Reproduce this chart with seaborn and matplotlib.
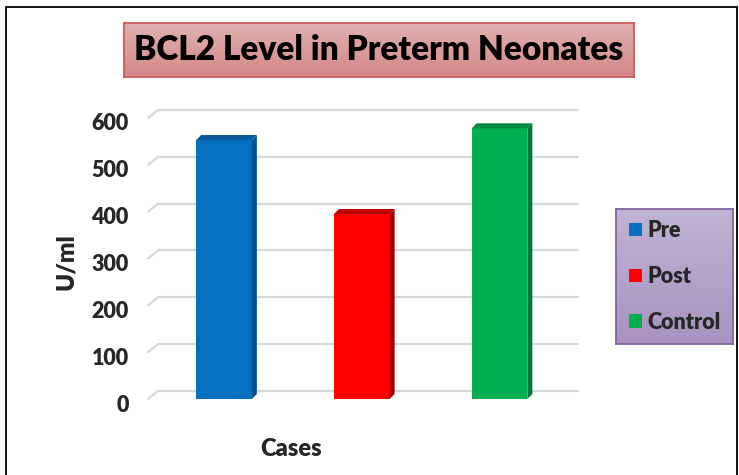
import numpy as np
import pandas as pd
import matplotlib as mpl
mpl.use('Agg')
import matplotlib.pyplot as plt
import matplotlib.patches as mpatches
import seaborn as sns

#### data
categories = ['Pre', 'Post', 'Control']
values = [553, 395, 578]
front_colors = ['#0570C0', '#FF0000', '#00B050']
side_colors = ['#0A4F8F', '#A80000', '#00793A']
top_colors = ['#0B5A9E', '#C00000', '#008A42']
yticks = [0, 100, 200, 300, 400, 500, 600]

df = pd.DataFrame({'case': categories, 'value': values})

sns.set_theme(style='white')
plt.rcParams['font.family'] = ['Lato', 'DejaVu Sans']
WEIGHT = 'heavy'

W, H = 739, 475
fig = plt.figure(figsize=(W / 100, H / 100), dpi=100)

def fbox(x0, y0, x1, y1):
    # pixel box (top-left origin) -> figure fraction rect
    return [x0 / W, 1 - y1 / H, (x1 - x0) / W, (y1 - y0) / H]

#### outer frame
fig.patches.append(mpatches.Rectangle((6 / W, -0.1), (737 - 6) / W, 1.1 - 7 / H,
                                      transform=fig.transFigure, fill=False,
                                      edgecolor='black', lw=1.3))

#### main axes = front plane of the 3d chart
ax = fig.add_axes(fbox(148, 118, 568, 399))
sns.barplot(data=df, x='case', y='value', hue='case', palette=front_colors,
            dodge=False, legend=False, width=0.404, saturation=1, ax=ax, zorder=3,
            linewidth=0, edgecolor='none')
ax.set_ylim(0, 600)
ax.set_xlim(-0.552, 2.497)
for s in ax.spines.values():
    s.set_visible(False)
ax.set_xticks([])
ax.set_xlabel('')
ax.set_ylabel('')
ax.set_yticks(yticks)
ax.set_yticklabels([str(t) for t in yticks], fontsize=15.5, fontweight=WEIGHT)
ax.tick_params(axis='y', length=0, pad=14)
shift = mpl.transforms.ScaledTranslation(0, -4 / 100, fig.dpi_scale_trans)
for lab in ax.get_yticklabels():
    lab.set_transform(lab.get_transform() + shift)
ax.set_facecolor('none')

# back-wall gridlines with their little depth stubs
depth = 10, 8
grid_tr = ax.get_yaxis_transform() + mpl.transforms.Affine2D().translate(*depth)
for t in yticks:
    ax.plot([0, 1], [t, t], color='#D9D9D9', lw=1.6, transform=grid_tr, zorder=1, clip_on=False)
    ax.annotate('', xy=(0, t), xycoords=ax.get_yaxis_transform(), xytext=depth,
                textcoords='offset pixels',
                arrowprops=dict(arrowstyle='-', color='#D9D9D9', lw=1.6, shrinkA=0, shrinkB=0),
                zorder=1)

# fake 3d faces on the bars (top + right side)
d = 5
for p, sc, tc in zip(ax.patches, side_colors, top_colors):
    x0, y0 = ax.transData.transform((p.get_x(), 0))
    x1, y1 = ax.transData.transform((p.get_x() + p.get_width(), p.get_height()))
    side = [(x1, y0), (x1 + d, y0 + d), (x1 + d, y1 + d), (x1, y1)]
    top = [(x0, y1), (x0 + d, y1 + d), (x1 + d, y1 + d), (x1, y1)]
    fig.patches.append(mpatches.Polygon(side, closed=True, transform=None, facecolor=sc, edgecolor='none', zorder=4))
    fig.patches.append(mpatches.Polygon(top, closed=True, transform=None, facecolor=tc, edgecolor='none', zorder=4))

#### axis titles
fig.text(291 / W, 1 - 449 / H, 'Cases', ha='center', va='center', fontsize=17, fontweight=WEIGHT)
fig.text(66 / W, 1 - 262 / H, 'U/ml', ha='center', va='center', rotation=90, fontsize=17.5, fontweight=WEIGHT)

#### title box with gradient
tax = fig.add_axes(fbox(124, 23, 634, 77))
grad = np.linspace(0, 1, 50).reshape(-1, 1)
tcm = mpl.colors.LinearSegmentedColormap.from_list('t', ['#DFB0B0', '#D58888'])
tax.imshow(grad, aspect='auto', cmap=tcm, extent=(0, 1, 0, 1))
tax.set_xticks([])
tax.set_yticks([])
for s in tax.spines.values():
    s.set_edgecolor('#C95C5C')
    s.set_linewidth(1.3)
tax.text(0.5, 0.5, 'BCL2 Level in Preterm Neonates', ha='center', va='center',
         fontsize=24, fontweight=WEIGHT, color='black', transform=tax.transAxes)

#### legend box with gradient
lax = fig.add_axes(fbox(616, 209, 733, 344))
lcm = mpl.colors.LinearSegmentedColormap.from_list('l', ['#C0B3D2', '#A894BF'])
lax.imshow(grad, aspect='auto', cmap=lcm, extent=(0, 1, 0, 1))
lax.set_xticks([])
lax.set_yticks([])
for s in lax.spines.values():
    s.set_edgecolor('#8064A2')
    s.set_linewidth(1.3)
handles = [mpatches.Patch(facecolor=c, edgecolor='none', label=l) for c, l in zip(front_colors, categories)]
lax.legend(handles=handles, loc='center left', bbox_to_anchor=(0.11, 0.5), frameon=False,
           prop={'weight': WEIGHT, 'size': 15.5}, handlelength=0.6, handleheight=0.6,
           handletextpad=0.28, labelspacing=1.15, borderaxespad=0, borderpad=0)

fig.savefig('out.png', dpi=100)
